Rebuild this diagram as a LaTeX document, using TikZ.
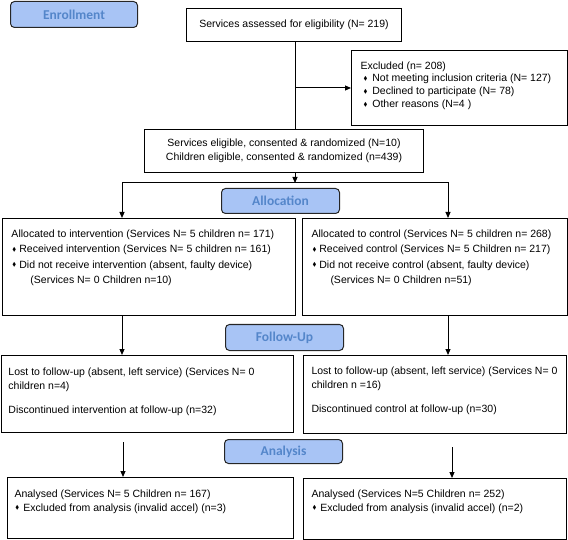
\documentclass[tikz,border=0pt]{standalone}
\usepackage{amssymb}
\usepackage{fontspec}
\setmainfont{Liberation Sans}
\newfontfamily\headfont{Carlito}
\usetikzlibrary{arrows.meta,positioning}
\definecolor{stagefill}{RGB}{168,196,245}
\definecolor{stagetext}{RGB}{84,134,202}
\newcommand{\dia}{\raisebox{1.2pt}{\scalebox{0.55}{$\blacklozenge$}}}

\begin{document}
\begin{tikzpicture}
  [x=1pt,y=-1pt,line width=1pt,
   box/.style={draw,rectangle,anchor=north west,inner sep=0pt,
     font=\fontsize{10.5}{14}\selectfont,align=center},
   txt/.style={anchor=north west,align=left,inner sep=0pt},
   stage/.style={draw=black!85,fill=stagefill,rounded corners=4pt,anchor=north west,
     text=stagetext,font=\headfont\bfseries\fontsize{13.5}{16}\selectfont},
   arr/.style={-{Triangle[length=6pt,width=5pt]}}]
  \useasboundingbox (0,0) rectangle (568,540);

  \node[stage,minimum width=127,minimum height=26] (enrol) at (10,1) {Enrollment};
  \node[stage,minimum width=118,minimum height=25] (alloc) at (221,188) {Allocation};
  \node[stage,minimum width=118,minimum height=26] (follow) at (225,324) {Follow-Up};
  \node[stage,minimum width=118,minimum height=24] (anal) at (224,439) {Analysis};

  \node[box,minimum width=215,minimum height=33] (assess) at (186,8)
    {Services assessed for eligibility (N= 219)};
  \node[box,minimum width=216,minimum height=75] (excl) at (351,50) {};
  \node[box,minimum width=279,minimum height=43] (elig) at (144,129)
    {Services eligible, consented \& randomized (N=10)\\
     Children eligible, consented \& randomized (n=439)};
  \node[box,minimum width=293,minimum height=97] (allocL) at (2,218) {};
  \node[box,minimum width=265,minimum height=97] (allocR) at (302,218) {};
  \node[box,minimum width=292,minimum height=77] (lostL) at (1,355) {};
  \node[box,minimum width=263,minimum height=78] (lostR) at (303,355) {};
  \node[box,minimum width=286,minimum height=61] (analL) at (7,477) {};
  \node[box,minimum width=263,minimum height=61] (analR) at (303,478) {};

  \node[txt,font=\fontsize{10.5}{12.7}\selectfont] (exclT) at (360,61)
    {Excluded (n= 208)\\
     \hspace*{3pt}\dia\hspace{5pt}Not meeting inclusion criteria (N= 127)\\
     \hspace*{3pt}\dia\hspace{5pt}Declined to participate (N= 78)\\
     \hspace*{3pt}\dia\hspace{5pt}Other reasons (N=4 )};
  \node[txt,font=\fontsize{10.5}{15.5}\selectfont] (allocLT) at (11,229)
    {Allocated to intervention (Services N= 5 children n= 171)\\
     \hspace*{1pt}\dia\hspace{3pt}Received intervention (Services N= 5 children n= 161)\\
     \hspace*{1pt}\dia\hspace{3pt}Did not receive intervention (absent, faulty device)\\
     \hspace*{19pt}(Services N= 0 Children n=10)};
  \node[txt,font=\fontsize{10.5}{15.5}\selectfont] (allocRT) at (311,229)
    {Allocated to control (Services N= 5 children n= 268)\\
     \hspace*{1pt}\dia\hspace{3pt}Received control (Services N= 5 Children n= 217)\\
     \hspace*{1pt}\dia\hspace{3pt}Did not receive control (absent, faulty device)\\
     \hspace*{19pt}(Services N= 0 Children n=51)};
  \node[txt,font=\fontsize{10.5}{14}\selectfont] (lostLT) at (8,367)
    {Lost to follow-up (absent, left service) (Services N= 0\\
     children n=4)\\[10pt]
     Discontinued intervention at follow-up (n=32)};
  \node[txt,font=\fontsize{10.5}{14}\selectfont] (lostRT) at (311,366)
    {Lost to follow-up (absent, left service) (Services N= 0\\
     children n =16)\\[10pt]
     Discontinued control at follow-up (n=30)};
  \node[txt,font=\fontsize{10.5}{14}\selectfont] (analLT) at (14,489)
    {Analysed (Services N= 5 Children n= 167)\\
     \hspace*{1pt}\dia\hspace{4pt}Excluded from analysis (invalid accel) (n=3)};
  \node[txt,font=\fontsize{10.5}{14}\selectfont] (analRT) at (311,489)
    {Analysed (Services N=5 Children n= 252)\\
     \hspace*{1pt}\dia\hspace{4pt}Excluded from analysis (invalid accel) (n=2)};

  \coordinate (trunk) at (295,0);
  \coordinate (split) at (0,183);
  \coordinate (colL) at (122,0);
  \coordinate (colR) at (448,0);
  \coordinate (gapL) at (123,442);
  \coordinate (gapR) at (452,447);

  \draw (trunk |- assess.south) -- (trunk |- elig.north);
  \draw[arr] (trunk |- excl.west) -- (excl.west);
  \draw[arr] (trunk |- elig.south) -- (trunk |- split);
  \draw[arr] (trunk |- split) -| (colL |- allocL.north);
  \draw[arr] (trunk |- split) -| (colR |- allocR.north);
  \foreach \c/\from/\to in {colL/allocL/lostL,colR/allocR/lostR}
    \draw[arr] (\c |- \from.south) -- (\c |- \to.north);
  \draw[arr] (gapL) -- (gapL |- analL.north);
  \draw[arr] (gapR) -- (gapR |- analR.north);

\end{tikzpicture}
\end{document}
